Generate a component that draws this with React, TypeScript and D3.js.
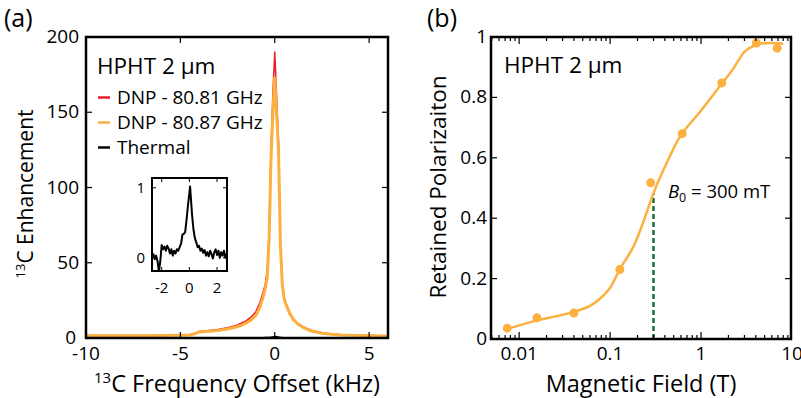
import { useEffect, useRef } from "react";
import * as d3 from "d3";

// ---- panel (a): 13C spectra ----
const offsets = [-10, -9, -8, -7, -6, -5, -4.5, -4.2, -4, -3.5, -3, -2.5, -2, -1.75, -1.5, -1.25, -1, -0.8, -0.6, -0.5, -0.4, -0.3, -0.2, -0.1, 0, 0.1, 0.2, 0.3, 0.4, 0.5, 0.6, 0.8, 1, 1.25, 1.5, 1.75, 2, 2.5, 3, 3.5, 4, 5, 6];
const dnp8081 = [1.7, 1.7, 1.7, 1.7, 1.8, 2, 2.2, 3.2, 4.3, 5, 5.7, 6.8, 8.5, 10, 11.5, 14, 17.5, 23, 31, 36, 45, 70, 125, 162, 190, 160, 130, 64, 37, 27, 23, 17, 12.5, 9.5, 7.5, 6, 5, 3.5, 2.7, 2.2, 2, 1.6, 1.3];
const dnp8087 = [1.5, 1.5, 1.5, 1.5, 1.6, 1.8, 2, 3, 4, 4.5, 5, 6, 7.5, 8.5, 10, 12, 15, 20, 28, 33, 40, 65, 118, 150, 173, 148, 125, 62, 35, 26, 22, 16, 12, 9, 7, 5.5, 4.5, 3.2, 2.5, 2, 1.8, 1.5, 1.3];

const thermalOffsets = [-2.7, -2.6, -2.5, -2.4, -2.3, -2.2, -2.1, -2.0, -1.9, -1.8, -1.7, -1.6, -1.5, -1.4, -1.3, -1.2, -1.1, -1.0, -0.9, -0.8, -0.7, -0.6, -0.5, -0.4, -0.3, -0.2, -0.1, 0, 0.05, 0.1, 0.2, 0.3, 0.4, 0.5, 0.6, 0.7, 0.8, 0.9, 1.0, 1.1, 1.2, 1.3, 1.4, 1.5, 1.6, 1.7, 1.8, 1.9, 2.0, 2.1, 2.2, 2.3, 2.4, 2.5, 2.6, 2.7];
const thermal = [0.0, 0.05, -0.02, 0.03, -0.05, -0.2, -0.05, 0.18, 0.12, 0.16, 0.1, 0.17, 0.13, 0.06, 0.12, 0.03, 0.1, 0.06, 0.12, 0.1, 0.15, 0.2, 0.33, 0.34, 0.37, 0.55, 0.75, 0.92, 1.02, 0.88, 0.6, 0.4, 0.28, 0.22, 0.15, 0.17, 0.1, 0.13, 0.07, 0.11, 0.03, 0.08, 0.02, 0.1, 0.05, -0.01, 0.08, 0.12, 0.04, 0.1, 0.0, 0.08, 0.03, 0.1, 0.0, 0.06];

const xTicksA = [-10, -5, 0, 5];
const yTicksA = [0, 50, 100, 150, 200];
const insetXTicks = [-2, 0, 2];
const insetYTicks = [0, 1];
const legendItems = ["DNP - 80.81 GHz", "DNP - 80.87 GHz", "Thermal"];

// ---- panel (b): field cycling ----
const fields = [0.0074, 0.0157, 0.04, 0.128, 0.279, 0.62, 1.69, 4.06, 6.87];
const retained = [0.036, 0.07, 0.086, 0.23, 0.517, 0.68, 0.848, 0.98, 0.963];
const fitFields = [0.0072, 0.01, 0.015, 0.025, 0.04, 0.06, 0.075, 0.1, 0.13, 0.18, 0.26, 0.3, 0.43, 0.6, 0.96, 1.5, 2.2, 3.1, 4.4, 6, 8];
const fitValues = [0.032, 0.045, 0.06, 0.075, 0.09, 0.11, 0.13, 0.17, 0.235, 0.305, 0.43, 0.483, 0.59, 0.675, 0.75, 0.825, 0.89, 0.955, 0.977, 0.98, 0.978];
const xTicksB = [0.01, 0.1, 1, 10];
const yTicksB = [0, 0.2, 0.4, 0.6, 0.8, 1];
const b0Field = 0.3;

const C_RED = "#ec1c24";
const C_ORANGE = "#fbb040";
const C_GREEN = "#1b6e3c";
const FONT = "'Open Sans', sans-serif";
const TICK_FS = 19;

export default function App() {
  const ref = useRef<SVGSVGElement>(null);

  useEffect(() => {
    document.body.style.margin = "0";
    const svg = d3.select(ref.current);
    svg.selectAll("*").remove();
    svg.attr("font-family", FONT);

    const txt = (x: number, y: number, s: string, size: number, anchor = "start") =>
      svg.append("text").attr("x", x).attr("y", y).attr("font-size", size)
        .attr("text-anchor", anchor).attr("fill", "#000").text(s);

    // ===== Panel (a) =====
    const xa = d3.scaleLinear().domain([-10, 6]).range([86, 388]);
    const ya = d3.scaleLinear().domain([0, 200]).range([338, 37]);

    svg.append("clipPath").attr("id", "clipA").append("rect")
      .attr("x", 86).attr("y", 37).attr("width", 302).attr("height", 301);

    const lineA = (vals: number[], xs: number[]) =>
      d3.line<number>().x((_, i) => xa(xs[i])).y(d => ya(d))(vals);

    const ga = svg.append("g").attr("clip-path", "url(#clipA)");
    ga.append("path").attr("d", lineA(thermal, thermalOffsets)).attr("fill", "none")
      .attr("stroke", "#000").attr("stroke-width", 1.5);
    ga.append("path").attr("d", lineA(dnp8081, offsets)).attr("fill", "none")
      .attr("stroke", C_RED).attr("stroke-width", 1.5).attr("stroke-linejoin", "round");
    ga.append("path").attr("d", lineA(dnp8087, offsets)).attr("fill", "none")
      .attr("stroke", C_ORANGE).attr("stroke-width", 3).attr("stroke-linejoin", "round");

    // ticks (inside, mirrored)
    xTicksA.forEach(t => {
      if (t !== -10) {
        svg.append("line").attr("x1", xa(t)).attr("x2", xa(t)).attr("y1", 338).attr("y2", 332).attr("stroke", "#000").attr("stroke-width", 1.2);
        svg.append("line").attr("x1", xa(t)).attr("x2", xa(t)).attr("y1", 37).attr("y2", 43).attr("stroke", "#000").attr("stroke-width", 1.2);
      }
      txt(xa(t), 360, String(t), TICK_FS, "middle");
    });
    yTicksA.forEach(t => {
      svg.append("line").attr("x1", 86).attr("x2", 92).attr("y1", ya(t)).attr("y2", ya(t)).attr("stroke", "#000").attr("stroke-width", 1.2);
      svg.append("line").attr("x1", 388).attr("x2", 382).attr("y1", ya(t)).attr("y2", ya(t)).attr("stroke", "#000").attr("stroke-width", 1.2);
      txt(t === 0 ? 76 : 79, ya(t) + 6, String(t), TICK_FS, "end");
    });
    svg.append("rect").attr("x", 86).attr("y", 37).attr("width", 302).attr("height", 301)
      .attr("fill", "none").attr("stroke", "#000").attr("stroke-width", 2.5);

    // legend
    txt(97, 74, "HPHT 2 μm", 22.5);
    const legColors = [C_RED, C_ORANGE, "#000"];
    legendItems.forEach((s, i) => {
      const yb = 103.5 + i * 25;
      svg.append("line").attr("x1", 98).attr("x2", 110).attr("y1", yb - 6).attr("y2", yb - 6)
        .attr("stroke", legColors[i]).attr("stroke-width", 2.5);
      txt(117, yb, s, 19);
    });

    // inset
    const xi = d3.scaleLinear().domain([-2.7, 2.72]).range([152, 227]);
    const yi = d3.scaleLinear().domain([-0.19, 1.14]).range([271, 178]);
    svg.append("clipPath").attr("id", "clipI").append("rect")
      .attr("x", 152).attr("y", 178).attr("width", 75).attr("height", 93);
    svg.append("rect").attr("x", 152).attr("y", 178).attr("width", 75).attr("height", 93).attr("fill", "#fff");
    svg.append("g").attr("clip-path", "url(#clipI)").append("path")
      .attr("d", d3.line<number>().x((_, i) => xi(thermalOffsets[i])).y(d => yi(d))(thermal))
      .attr("fill", "none").attr("stroke", "#000").attr("stroke-width", 2).attr("stroke-linejoin", "round");
    insetXTicks.forEach(t => {
      svg.append("line").attr("x1", xi(t)).attr("x2", xi(t)).attr("y1", 271).attr("y2", 267).attr("stroke", "#000");
      svg.append("line").attr("x1", xi(t)).attr("x2", xi(t)).attr("y1", 178).attr("y2", 182).attr("stroke", "#000");
      txt(xi(t), 293, String(t), 15, "middle");
    });
    insetYTicks.forEach(t => {
      svg.append("line").attr("x1", 152).attr("x2", 156).attr("y1", yi(t)).attr("y2", yi(t)).attr("stroke", "#000");
      svg.append("line").attr("x1", 227).attr("x2", 223).attr("y1", yi(t)).attr("y2", yi(t)).attr("stroke", "#000");
      txt(145, yi(t) + 5, String(t), 15, "end");
    });
    svg.append("rect").attr("x", 152).attr("y", 178).attr("width", 75).attr("height", 93)
      .attr("fill", "none").attr("stroke", "#000").attr("stroke-width", 2);

    // axis titles (a)
    const xt = svg.append("text").attr("x", 237).attr("y", 392).attr("text-anchor", "middle").attr("font-size", 23.5);
    xt.append("tspan").attr("font-size", 15).attr("dy", -9).text("13");
    xt.append("tspan").attr("dy", 9).text("C Frequency Offset (kHz)");
    const yt = svg.append("text").attr("transform", "translate(33,194) rotate(-90)").attr("text-anchor", "middle").attr("font-size", 21);
    yt.append("tspan").attr("font-size", 13).attr("dy", -8).text("13");
    yt.append("tspan").attr("dy", 8).text("C Enhancement");
    txt(4, 27, "(a)", 25);

    // ===== Panel (b) =====
    const xb = d3.scaleLog().domain([0.0049, 9.75]).range([491, 791]);
    const yb = d3.scaleLinear().domain([0, 1]).range([339, 37]);

    svg.append("line").attr("x1", xb(b0Field)).attr("x2", xb(b0Field))
      .attr("y1", yb(0)).attr("y2", yb(0.483))
      .attr("stroke", C_GREEN).attr("stroke-width", 2.5).attr("stroke-dasharray", "5,3");

    svg.append("path")
      .attr("d", d3.line<number>().curve(d3.curveCatmullRom).x((_, i) => xb(fitFields[i])).y(d => yb(d))(fitValues))
      .attr("fill", "none").attr("stroke", C_ORANGE).attr("stroke-width", 2.5);
    svg.selectAll(".pt").data(fields).enter().append("circle")
      .attr("cx", d => xb(d)).attr("cy", (_, i) => yb(retained[i])).attr("r", 4.5).attr("fill", C_ORANGE);

    // log ticks
    const minor: number[] = [];
    [0.001, 0.01, 0.1, 1].forEach(dec => {
      for (let k = 1; k <= 9; k++) {
        const v = dec * k;
        if (v >= 0.0049 && v <= 9.75) minor.push(v);
      }
    });
    minor.forEach(v => {
      const major = xTicksB.includes(+v.toPrecision(3));
      const len = major ? 7 : 4;
      svg.append("line").attr("x1", xb(v)).attr("x2", xb(v)).attr("y1", 339).attr("y2", 339 - len).attr("stroke", "#000").attr("stroke-width", 1.2);
      svg.append("line").attr("x1", xb(v)).attr("x2", xb(v)).attr("y1", 37).attr("y2", 37 + len).attr("stroke", "#000").attr("stroke-width", 1.2);
    });
    xTicksB.forEach(t => txt(xb(t), 360, String(t), TICK_FS, "middle"));
    yTicksB.forEach(t => {
      svg.append("line").attr("x1", 491).attr("x2", 497).attr("y1", yb(t)).attr("y2", yb(t)).attr("stroke", "#000").attr("stroke-width", 1.2);
      svg.append("line").attr("x1", 791).attr("x2", 785).attr("y1", yb(t)).attr("y2", yb(t)).attr("stroke", "#000").attr("stroke-width", 1.2);
      txt(487, yb(t) + 6, String(t), TICK_FS, "end");
    });
    svg.append("rect").attr("x", 491).attr("y", 37).attr("width", 300).attr("height", 302)
      .attr("fill", "none").attr("stroke", "#000").attr("stroke-width", 2.5);

    txt(504, 73, "HPHT 2 μm", 22.5);
    const bl = svg.append("text").attr("x", 668).attr("y", 198).attr("font-size", 18.5);
    bl.append("tspan").attr("font-style", "italic").text("B");
    bl.append("tspan").attr("font-size", 12.5).attr("dy", 4).text("0");
    bl.append("tspan").attr("dy", -4).text(" = 300 mT");

    txt(641, 392, "Magnetic Field (T)", 23.5, "middle");
    svg.append("text").attr("transform", "translate(446,187) rotate(-90)").attr("text-anchor", "middle")
      .attr("font-size", 22.5).text("Retained Polarizaiton");
    txt(427, 27, "(b)", 25);
  }, []);

  return <svg ref={ref} width={801} height={398} style={{ display: "block" }} />;
}
